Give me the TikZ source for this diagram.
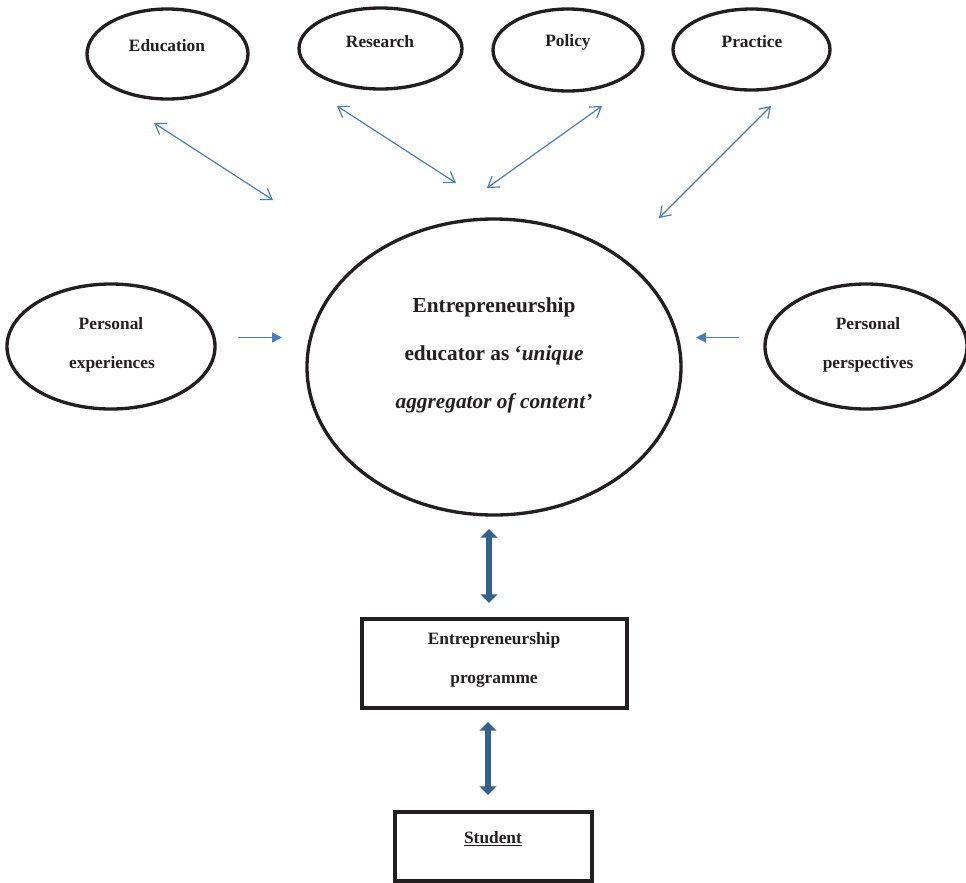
\documentclass[tikz,border=0pt]{standalone}
\usepackage{fontspec}
\setmainfont{Liberation Serif}
\usetikzlibrary{shapes.geometric,arrows.meta}
\definecolor{ink}{HTML}{231F20}
\definecolor{thinblue}{HTML}{4A7EBB}
\definecolor{thickblue}{HTML}{34608F}
\tikzset{
  oval/.style={ellipse, draw=ink, line width=2.5pt, inner sep=0pt},
  boxnode/.style={rectangle, draw=ink, line width=2.4pt, inner sep=0pt},
  txt/.style={text=ink, font=\fontsize{13}{15}\selectfont\bfseries, inner sep=0pt},
  bigtxt/.style={text=ink, font=\fontsize{16}{18}\selectfont\bfseries, inner sep=0pt},
  thinarrow/.style={draw=thinblue, line width=0.9pt, {Straight Barb[length=7.5pt,width=10pt]}-{Straight Barb[length=7.5pt,width=10pt]}},
  sidearrow/.style={draw=thinblue, line width=0.9pt, -{Triangle[length=7.5pt,width=7.5pt]}},
  thickarrow/.style={draw=thickblue, line width=4.5pt, {Triangle[length=6.5pt,width=12.5pt]}-{Triangle[length=6.5pt,width=12.5pt]}}
}
\begin{document}
\begin{tikzpicture}[x=0.75pt,y=-0.75pt]
\useasboundingbox (0,0) rectangle (966,882);
\clip (0,0) rectangle (966,882);
% top ellipses
\node[oval, minimum width=120.75pt, minimum height=67.5pt] (edu) at (167.5,54) {};
\node[txt] (edut) at (167,46) {Education};
\node[oval, minimum width=122.25pt, minimum height=60.75pt] (res) at (380.5,48.5) {};
\node[txt] (rest) at (380,42) {Research};
\node[oval, minimum width=112.5pt, minimum height=61.5pt] (pol) at (568,50) {};
\node[txt] (polt) at (568,42) {Policy};
\node[oval, minimum width=117.75pt, minimum height=60.75pt] (pra) at (751.5,49.5) {};
\node[txt] (prat) at (752,42) {Practice};
% side ellipses
\node[oval, minimum width=156pt, minimum height=93.75pt] (pexp) at (111,346.5) {};
\node[txt] (pexpa) at (111,324) {Personal};
\node[txt] (pexpb) at (112,364) {experiences};
\node[oval, minimum width=151.5pt, minimum height=93.75pt] (ppers) at (866,346.5) {};
\node[txt] (ppersa) at (868,324) {Personal};
\node[txt] (ppersb) at (868,364) {perspectives};
% central ellipse
\node[oval, minimum width=280.5pt, minimum height=222pt] (core) at (494,367) {};
\node[bigtxt] (corea) at (494,307) {Entrepreneurship};
\node[bigtxt] (coreb) at (494,355) {educator as ‘\textit{unique}};
\node[bigtxt] (corec) at (494,403) {\textit{aggregator of content’}};
% boxes
\node[boxnode, minimum width=198.75pt, minimum height=66.75pt] (prog) at (494.5,663.5) {};
\node[txt] (proga) at (494,640) {Entrepreneurship};
\node[txt] (progb) at (494,681) {programme};
\node[boxnode, minimum width=147.75pt, minimum height=51.75pt] (stud) at (493.5,846.5) {};
\node[txt] (studt) at (493,839) {\underline{Student}};
% arrow end points
\coordinate (a1s) at (154,123); \coordinate (a1e) at (273,200);
\coordinate (a2s) at (337,106); \coordinate (a2e) at (456,183);
\coordinate (a3s) at (602,106); \coordinate (a3e) at (487,188);
\coordinate (a4s) at (771,106); \coordinate (a4e) at (659,218);
\coordinate (l1s) at (238,337.5); \coordinate (l1e) at (282,337.5);
\coordinate (r1s) at (739,337.5); \coordinate (r1e) at (696,337.5);
\coordinate (t1s) at (489,529); \coordinate (t1e) at (489,603);
\coordinate (t2s) at (488,722); \coordinate (t2e) at (488,795);
\draw[thinarrow] (a1s) -- (a1e);
\draw[thinarrow] (a2s) -- (a2e);
\draw[thinarrow] (a3s) -- (a3e);
\draw[thinarrow] (a4s) -- (a4e);
\draw[sidearrow] (l1s) -- (l1e);
\draw[sidearrow] (r1s) -- (r1e);
\draw[thickarrow] (t1s) -- (t1e);
\draw[thickarrow] (t2s) -- (t2e);
\end{tikzpicture}
\end{document}
